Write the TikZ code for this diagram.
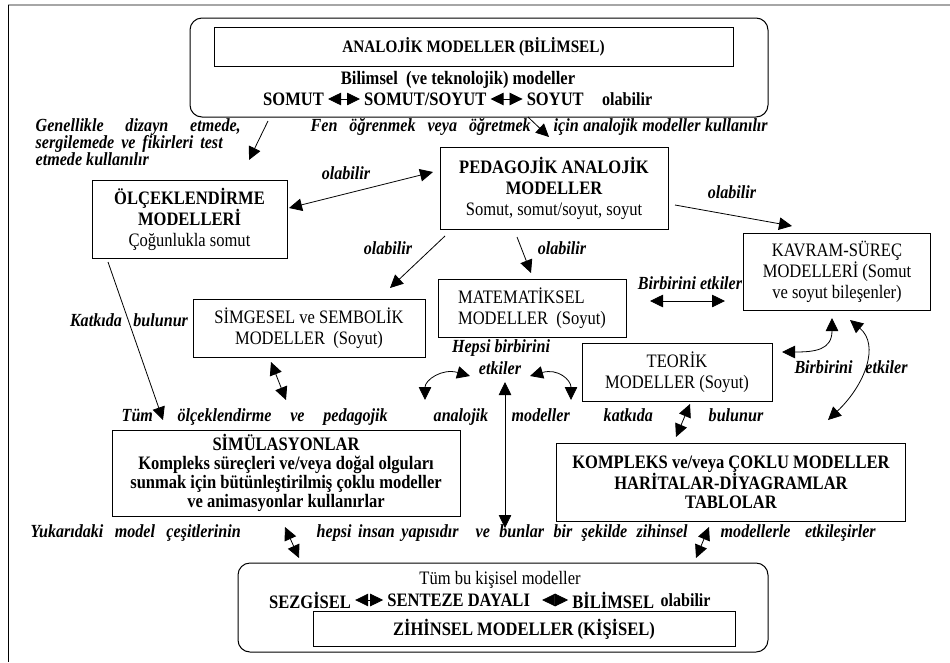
\documentclass[tikz,border=0pt]{standalone}
\usepackage{fontspec}
\setmainfont{Liberation Serif}[FakeStretch=0.87]
\usetikzlibrary{arrows.meta,positioning}

\newcommand\BoxSize{\fontsize{19}{21}\selectfont}
\newcommand\TightSize{\fontsize{19}{19}\selectfont}
\newcommand\TitleSize{\fontsize{17.5}{19}\selectfont}
\newcommand\LabelSize{\fontsize{18.5}{17}\selectfont}

\begin{document}
\begin{tikzpicture}[x=1pt,y=-1pt,
  >={Triangle[length=13pt,width=12.5pt]},
  frame/.style={draw,line width=1pt,rounded corners=12pt},
  box/.style={draw,line width=1pt,align=center,inner sep=2pt,font=\BoxSize},
  bbox/.style={box,font=\BoxSize\bfseries},
  txt/.style={inner sep=1pt,font=\BoxSize\bfseries},
  lbl/.style={inner sep=0.5pt,font=\LabelSize\bfseries\itshape},
  con/.style={line width=0.8pt},
  gap/.style={shorten <=3pt,shorten >=3pt},
]
\fill[white] (0,0) rectangle (950,662);
\useasboundingbox (0,0) rectangle (950,662);

% page rule and margin line
\draw[gray!70,line width=2pt] (8,5) -- (950,5);
\draw[line width=0.8pt] (8,5) -- (8,662);

% ---------- scientific analogical models ----------
\node[frame,minimum width=578pt,minimum height=99pt] (sciframe) at (479,67.5) {};
\node[bbox,font=\TitleSize\bfseries,minimum width=519pt,minimum height=39pt] (sci) at (473.5,46.5) {ANALOJİK MODELLER (BİLİMSEL)};
\node[txt] (scisub) at (458,80) {Bilimsel~ (ve teknolojik) modeller};
\node[txt,anchor=west] (so1) at (262,99) {SOMUT};
\node[txt,right=38pt of so1] (so2) {SOMUT/SOYUT};
\node[txt,right=38pt of so2] (so3) {SOYUT};
\node[txt,right=16pt of so3,font=\LabelSize\bfseries] (so4) {olabilir};
\draw[con,gap,<->] (so1.east) -- (so2.west);
\draw[con,gap,<->] (so2.east) -- (so3.west);

% ---------- labels under the top frame ----------
\node[lbl,anchor=base west] (use1) at (35,131) {\makebox[205pt][s]{Genellikle dizayn etmede,}};
\node[lbl,anchor=base west] (use2) at (35,148) {\makebox[187pt][s]{sergilemede ve fikirleri test}};
\node[lbl,anchor=base west] (use3) at (35,165) {etmede kullanılır};
\node[lbl,anchor=base west] (fen1) at (310,131) {\makebox[220pt][s]{Fen öğrenmek veya öğretmek}};
\node[lbl,anchor=base west] (fen2) at (553,131) {\makebox[214pt][s]{için analojik modeller kullanılır}};

% ---------- model boxes ----------
\node[bbox,minimum width=195pt,minimum height=78pt] (scale) at (189.5,219) {ÖLÇEKLENDİRME\\MODELLERİ\\\mdseries Çoğunlukla somut};
\node[bbox,minimum width=228pt,minimum height=82pt] (ped) at (554,188.5) {PEDAGOJİK ANALOJİK\\MODELLER\\\mdseries Somut, somut/soyut, soyut};
\node[box,minimum width=187pt,minimum height=77pt] (kav) at (837,271.5) {KAVRAM-SÜREÇ\\MODELLERİ (Somut\\ve soyut bileşenler)};
\node[box,minimum width=232pt,minimum height=58pt] (sym) at (309,328) {SİMGESEL ve SEMBOLİK\\MODELLER~ (Soyut)};
\node[box,align=left,minimum width=188pt,minimum height=58pt] (mat) at (532,308) {MATEMATİKSEL\\MODELLER~ (Soyut)};
\node[box,minimum width=190pt,minimum height=58pt] (teo) at (677,372.5) {TEORİK\\MODELLER (Soyut)};
\node[bbox,font=\TightSize\bfseries,minimum width=348pt,minimum height=86pt] (sim) at (286,473) {SİMÜLASYONLAR\\Kompleks süreçleri ve/veya doğal olguları\\sunmak için bütünleştirilmiş çoklu modeller\\ve animasyonlar kullanırlar};
\node[bbox,font=\TightSize\bfseries,minimum width=349pt,minimum height=78pt] (kom) at (731,482.5) {KOMPLEKS ve/veya ÇOKLU MODELLER\\HARİTALAR-DİYAGRAMLAR\\TABLOLAR};

% ---------- edge labels ----------
\node[lbl] (olA) at (346,173) {olabilir};
\node[lbl] (olB) at (732,192) {olabilir};
\node[lbl] (olC) at (388,248) {olabilir};
\node[lbl] (olD) at (562,248) {olabilir};
\node[lbl] (katk) at (129,320) {\makebox[118pt][s]{Katkıda bulunur}};
\node[lbl] (bir1) at (690,283) {Birbirini etkiler};
\node[lbl] (bir2) at (851,367) {\makebox[113pt][s]{Birbirini etkiler}};
\node[lbl] (heps1) at (501,348) {Hepsi birbirini};
\node[lbl] (heps2) at (500,368) {etkiler};

% ---------- justified rows of words ----------
\node[lbl,anchor=base west] (t1) at (121,421) {Tüm};
\node[lbl,anchor=base west] (t2) at (177,421) {\makebox[210pt][s]{ölçeklendirme ve pedagojik}};
\node[lbl,anchor=base west] (t3) at (433,421) {analojik};
\node[lbl,anchor=base west] (t4) at (511,421) {modeller};
\node[lbl,anchor=base west] (t5) at (603,421) {katkıda};
\node[lbl,anchor=base west] (t6) at (708,421) {bulunur};

\node[lbl,anchor=base west] (y1) at (30,537) {\makebox[210pt][s]{Yukarıdaki model çeşitlerinin}};
\node[lbl,anchor=base west] (y2) at (316,537) {\makebox[142pt][s]{hepsi insan yapısıdır}};
\node[lbl,anchor=base west] (y3) at (475,537) {\makebox[212pt][s]{ve bunlar bir şekilde zihinsel}};
\node[lbl,anchor=base west] (y4) at (720,537) {\makebox[155pt][s]{modellerle etkileşirler}};

% ---------- personal mental models ----------
\node[frame,minimum width=530pt,minimum height=89pt] (menframe) at (503,607.5) {};
\node[txt,font=\BoxSize] (mensub) at (500,580) {Tüm bu kişisel modeller};
\node[txt,anchor=west] (me1) at (268,600) {SEZGİSEL};
\node[txt,right=34pt of me1] (me2) {SENTEZE DAYALI};
\node[txt,right=40pt of me2] (me3) {BİLİMSEL};
\node[txt,right=4pt of me3,font=\LabelSize\bfseries] (me4) {olabilir};
\draw[con,gap,<->] (me1.east) -- (me2.west);
\draw[con,gap,<->] ([xshift=8pt]me2.east) -- (me3.west);
\node[bbox,minimum width=422pt,minimum height=35pt] (men) at (524,629) {ZİHİNSEL MODELLER (KİŞİSEL)};

% ---------- connector end points ----------
\coordinate (a1s) at (268,121);  \coordinate (a1e) at (249,160);
\coordinate (a2s) at (528,117);  \coordinate (a2e) at (549,137);
\coordinate (a3s) at (289,208);  \coordinate (a3e) at (433,172);
\coordinate (a4s) at (675,205);  \coordinate (a4e) at (792,226);
\coordinate (a5s) at (445,236);  \coordinate (a5e) at (390,288);
\coordinate (a6s) at (517,237);  \coordinate (a6e) at (531,273);
\coordinate (a7s) at (108,262);  \coordinate (a7e) at (163,420);
\coordinate (a8s) at (650,301);  \coordinate (a8e) at (725,301);
\coordinate (a9s) at (271,362);  \coordinate (a9e) at (286,400);
\coordinate (h1s) at (470,376);  \coordinate (h1e) at (425,400);
\coordinate (h2s) at (530,376);  \coordinate (h2e) at (571,400);
\coordinate (vs)  at (505,382);  \coordinate (ve)  at (505,528);
\coordinate (k1s) at (832,318);  \coordinate (k1e) at (782,352);
\coordinate (k2s) at (850,320);  \coordinate (k2e) at (828,420);
\coordinate (tks) at (690,404);  \coordinate (tke) at (676,437);
\coordinate (b1s) at (285,527);  \coordinate (b1e) at (299,558);
\coordinate (b2s) at (709,527);  \coordinate (b2e) at (696,558);

% ---------- connectors ----------
\draw[con,->]  (a1s) -- (a1e);
\draw[con,->]  (a2s) -- (a2e);
\draw[con,<->] (a3s) -- (a3e);
\draw[con,->]  (a4s) -- (a4e);
\draw[con,->]  (a5s) -- (a5e);
\draw[con,->]  (a6s) -- (a6e);
\draw[con,->]  (a7s) -- (a7e);
\draw[con,<->] (a8s) -- (a8e);
\draw[con,<->] (a9s) -- (a9e);
\draw[con,<->] (h1s) .. controls (442,368) and (425,380) .. (h1e);
\draw[con,<->] (h2s) .. controls (558,368) and (571,380) .. (h2e);
\draw[con,<->] (vs) -- (ve);
\draw[con,<->] (k1s) .. controls (832,350) and (815,352) .. (k1e);
\draw[con,<->] (k2s) .. controls (880,345) and (865,385) .. (k2e);
\draw[con,<->] (tks) -- (tke);
\draw[con,<->] (b1s) -- (b1e);
\draw[con,<->] (b2s) -- (b2e);
\end{tikzpicture}
\end{document}
